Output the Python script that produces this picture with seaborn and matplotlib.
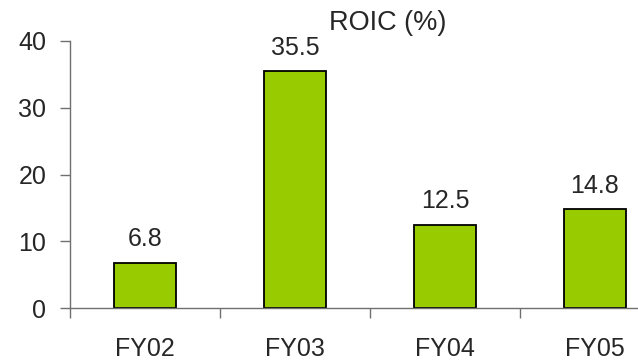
import matplotlib
matplotlib.use("Agg")
import matplotlib.pyplot as plt
import seaborn as sns
import numpy as np
from matplotlib.ticker import FixedLocator, NullFormatter

categories = ["FY02", "FY03", "FY04", "FY05"]
values = [6.8, 35.5, 12.5, 14.8]
value_labels = ["6.8", "35.5", "12.5", "14.8"]
title = "ROIC (%)"

sns.set_style("white")
plt.rcParams['font.family'] = ['Liberation Sans', 'DejaVu Sans']

FS = 18

fig = plt.figure(figsize=(6.38, 3.64), dpi=100)
ax = fig.add_axes([70/638, 1-308/364, 600/638, (308-41)/364])

sns.barplot(x=categories, y=values, color="#99CC00", saturation=1, width=0.41,
            edgecolor="black", linewidth=1.3, ax=ax)

ax.set_xlim(-0.5, 3.5)
ax.set_ylim(0, 40)
ax.set_yticks([0, 10, 20, 30, 40])
ax.tick_params(axis='y', length=7, width=1, color="#707070", labelsize=FS, pad=10, left=True)
ax.tick_params(axis='x', which='major', length=0, labelsize=FS, pad=21)
ax.xaxis.set_minor_locator(FixedLocator([-0.5, 0.5, 1.5, 2.5]))
ax.xaxis.set_minor_formatter(NullFormatter())
ax.tick_params(axis='x', which='minor', length=7, width=1, color="#707070", bottom=True)

for s in ["top", "right"]:
    ax.spines[s].set_visible(False)
for s in ["left", "bottom"]:
    ax.spines[s].set_color("#707070")
    ax.spines[s].set_linewidth(1)

ax.bar_label(ax.containers[0], labels=value_labels, padding=8, fontsize=FS)
ax.set_xlabel("")
ax.set_ylabel("")

fig.text(388/638, 1-23/364, title, ha="center", va="center", fontsize=19.5)

fig.savefig("out.png", dpi=100)
